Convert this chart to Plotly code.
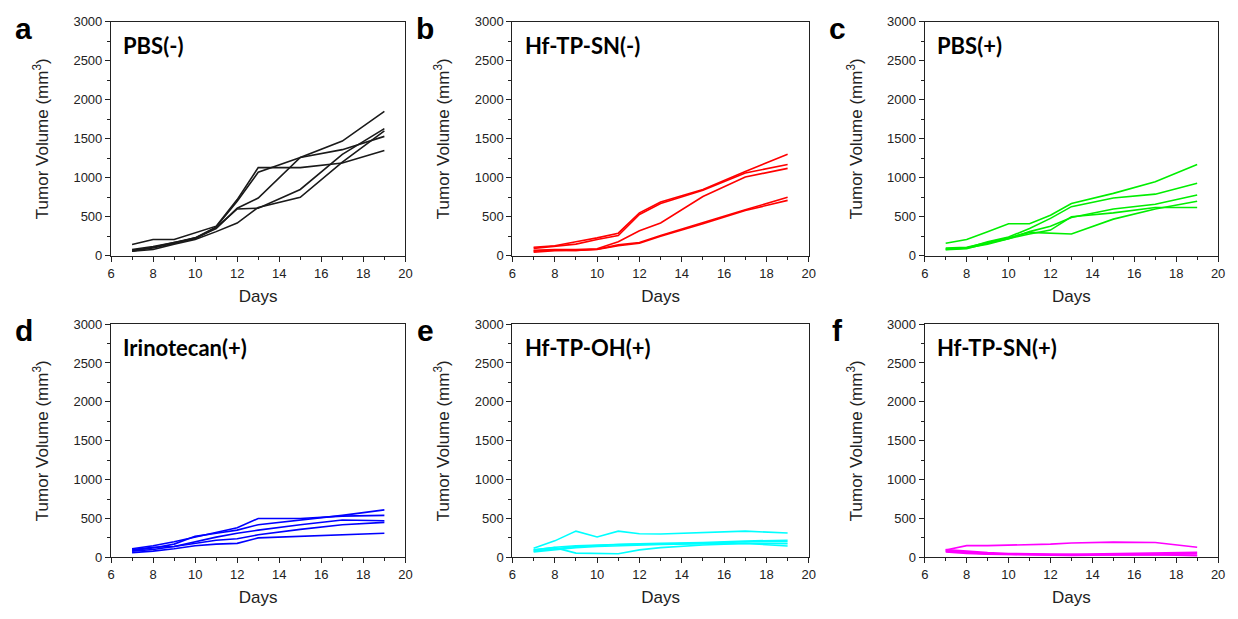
import plotly.graph_objects as go

days = [7, 8, 9, 10, 11, 12, 13, 15, 17, 19]

pbs_neg = [
    [145, 210, 210, 300, 380, 720, 1130, 1130, 1190, 1350],
    [70, 100, 160, 230, 370, 700, 1070, 1260, 1360, 1530],
    [60, 110, 170, 230, 350, 610, 740, 1260, 1470, 1850],
    [80, 120, 170, 220, 360, 600, 610, 850, 1300, 1630],
    [60, 80, 150, 210, 310, 420, 620, 750, 1200, 1600],
]
hf_sn_neg = [
    [110, 130, 180, 230, 290, 550, 690, 850, 1080, 1300],
    [95, 120, 150, 210, 260, 530, 670, 840, 1060, 1170],
    [70, 80, 80, 90, 180, 320, 420, 760, 1010, 1120],
    [60, 75, 70, 85, 140, 170, 260, 430, 590, 750],
    [45, 65, 70, 80, 130, 160, 250, 410, 580, 710],
]
pbs_pos = [
    [160, 210, 310, 410, 410, 520, 670, 800, 950, 1170],
    [90, 100, 180, 240, 350, 480, 630, 740, 790, 930],
    [80, 90, 160, 220, 310, 380, 490, 600, 660, 780],
    [80, 100, 150, 220, 280, 330, 500, 550, 620, 620],
    [100, 110, 170, 230, 300, 290, 280, 470, 600, 700],
]
irino_pos = [
    [110, 150, 200, 260, 320, 380, 500, 500, 530, 540],
    [90, 120, 170, 270, 310, 350, 420, 480, 540, 610],
    [80, 100, 140, 200, 260, 310, 350, 420, 480, 470],
    [100, 130, 140, 180, 220, 240, 290, 360, 420, 450],
    [60, 80, 110, 150, 170, 180, 250, 270, 290, 310],
]
hf_oh_pos = [
    [117, 212, 337, 262, 337, 304, 300, 317, 337, 312],
    [96, 125, 54, 46, 46, 96, 125, 158, 179, 146],
    [95, 130, 150, 160, 170, 175, 180, 190, 210, 220],
    [80, 110, 140, 150, 165, 170, 170, 180, 200, 200],
    [70, 100, 125, 140, 150, 160, 165, 175, 180, 175],
]
hf_sn_pos = [
    [95, 150, 150, 155, 160, 170, 185, 195, 190, 130],
    [90, 70, 50, 45, 40, 35, 40, 50, 55, 65],
    [80, 60, 45, 40, 35, 30, 30, 40, 45, 50],
    [70, 50, 40, 35, 30, 25, 25, 30, 35, 30],
    [100, 80, 60, 50, 45, 40, 35, 30, 35, 20],
]

groups = ["PBS(-)", "Hf-TP-SN(-)", "PBS(+)", "Irinotecan(+)", "Hf-TP-OH(+)", "Hf-TP-SN(+)"]
letters = ["a", "b", "c", "d", "e", "f"]
colors = ["#1a1a1a", "#ff0000", "#00ee00", "#0000ff", "#00ffff", "#ff00ff"]
data = [pbs_neg, hf_sn_neg, pbs_pos, irino_pos, hf_oh_pos, hf_sn_pos]

W, H = 1238, 619
xdoms = [(108, 405), (513, 812), (929, 1225)]
ydoms = [(15, 255), (325, 564)]

fig = go.Figure()
layout = dict(
    width=W, height=H, paper_bgcolor="white", plot_bgcolor="white",
    margin=dict(l=0, r=0, t=0, b=0), showlegend=False,
    font=dict(family="Liberation Sans, Arial", color="#222"),
)
annotations = []
for i in range(6):
    r, c = divmod(i, 3)
    k = "" if i == 0 else str(i + 1)
    xd = (xdoms[c][0] / W, xdoms[c][1] / W)
    yd = (1 - ydoms[r][1] / H, 1 - ydoms[r][0] / H)
    for series in data[i]:
        fig.add_trace(go.Scatter(x=days, y=series, mode="lines",
                                 line=dict(color=colors[i], width=1.6),
                                 xaxis="x" + k, yaxis="y" + k, hoverinfo="skip"))
    axstyle = dict(showgrid=False, zeroline=False, showline=True, linecolor="#222",
                   linewidth=1.2, mirror=True, ticks="outside", ticklen=5,
                   tickcolor="#222", tickfont=dict(size=13, color="#222"))
    layout["xaxis" + k] = dict(domain=xd, anchor="y" + k, range=[6, 20], dtick=2,
                               minor=dict(ticks="outside", dtick=1, ticklen=3, tickcolor="#222"),
                               title=dict(text="Days", font=dict(size=17), standoff=10),
                               **axstyle)
    layout["yaxis" + k] = dict(domain=yd, anchor="x" + k, range=[0, 3000], dtick=500,
                               minor=dict(ticks="outside", dtick=250, ticklen=3, tickcolor="#222"),
                               title=dict(text="Tumor Volume (mm<sup>3</sup>)", font=dict(size=17), standoff=20),
                               **axstyle)
    annotations.append(dict(text="<b>" + groups[i] + "</b>", xref="x" + k + " domain",
                            yref="y" + k + " domain", x=0.035, y=0.90, xanchor="left",
                            yanchor="middle", showarrow=False,
                            font=dict(family="Lato, Open Sans", size=22, color="black")))
    annotations.append(dict(text="<b>" + letters[i] + "</b>", xref="paper", yref="paper",
                            x=(xdoms[c][0] - 88) / W, y=1 - (ydoms[r][0] + 7) / H,
                            xanchor="center", yanchor="middle", showarrow=False,
                            font=dict(family="Liberation Sans, Arial", size=30, color="black")))
layout["annotations"] = annotations
fig.update_layout(**layout)
fig.write_html("out.html")
